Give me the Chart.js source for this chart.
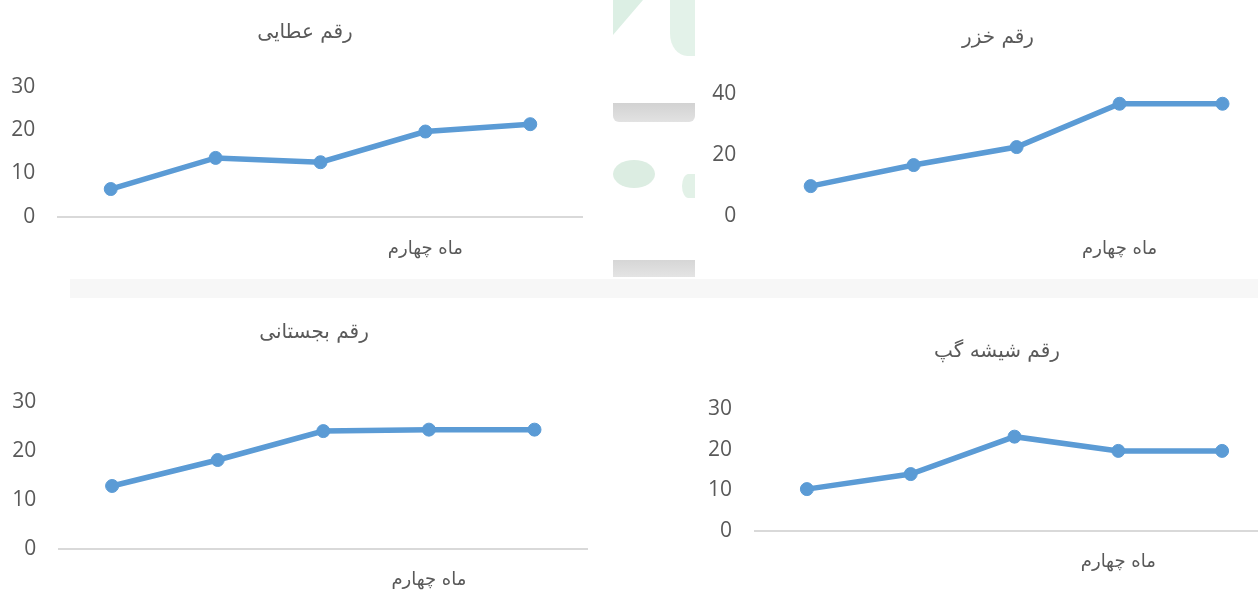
<!DOCTYPE html>
<html lang="fa">
<head>
<meta charset="utf-8">
<script src="https://cdn.jsdelivr.net/npm/chart.js@4.4.1/dist/chart.umd.min.js"></script>
<style>
  html, body { margin: 0; padding: 0; background: #fff; }
  body { width: 1258px; height: 590px; overflow: hidden; position: relative; }
  canvas { position: absolute; }
  .wm { position: absolute; }
</style>
</head>
<body>
<!-- faint watermark left over from the scanned page -->
<div class="wm" style="left:70px;top:279px;width:1188px;height:19px;background:#f7f7f7;"></div>
<div class="wm" style="left:613px;top:0;width:30px;height:35px;background:#dcefe4;clip-path:polygon(0 0,100% 0,0 100%);"></div>
<div class="wm" style="left:670px;top:0;width:25px;height:56px;background:#e3f2e9;border-radius:0 0 0 70% / 0 0 0 40%;"></div>
<div class="wm" style="left:613px;top:103px;width:82px;height:19px;background:linear-gradient(#d2d2d2,#e2e2e2);border-radius:0 0 6px 6px;"></div>
<div class="wm" style="left:613px;top:160px;width:42px;height:28px;background:#dcede2;border-radius:50%;"></div>
<div class="wm" style="left:682px;top:174px;width:13px;height:24px;background:#e2f1e7;border-radius:50% 0 0 50%;"></div>
<div class="wm" style="left:613px;top:260px;width:82px;height:17px;background:linear-gradient(#d6d6d6,#e4e4e4);"></div>

<canvas id="chartA"></canvas>
<canvas id="chartB"></canvas>
<canvas id="chartC"></canvas>
<canvas id="chartD"></canvas>

<script>
// category labels (only the fourth month is labelled on the axis)
const categories = ['', '', '', 'ماه چهارم', ''];

// series values
const attaeiValues = [6.4, 13.6, 12.6, 19.7, 21.4];
const khazarValues = [9.8, 16.7, 22.6, 36.8, 36.8];
const bajestaniValues = [12.8, 18.1, 24.0, 24.3, 24.3];
const shishehGapValues = [10.3, 14.0, 23.2, 19.7, 19.7];

// chart titles
const titles = ['رقم عطایی', 'رقم خزر', 'رقم بجستانی', 'رقم شیشه گپ'];

// y axis ranges and tick steps
const yMaxes = [30, 40, 30, 30];
const ySteps = [10, 20, 10, 10];

const lineColor = '#5b9bd5';
const textColor = '#595959';
const titleFont = { family: "'DejaVu Sans', sans-serif", size: 20, weight: 'normal' };
const labelFont = { family: "'DejaVu Sans', sans-serif", size: 18 };
const tickFont = { family: "'Open Sans', sans-serif", size: 21 };

// box = canvas placement, area = plot area in page pixels
function drawPanel(id, box, area, titleText, titlePos, values, yMax, yStep, showBase, labelGap) {
  const canvas = document.getElementById(id);
  canvas.width = box.w;
  canvas.height = box.h;
  canvas.style.left = box.x + 'px';
  canvas.style.top = box.y + 'px';

  const aL = area.l - box.x, aT = area.t - box.y, aB = area.b - box.y;
  // the full-width title is centred between the canvas left and 'outerRight'
  const outerRight = 2 * titlePos.x - box.x;
  const spacer = outerRight - area.r;
  const padRight = box.x + box.w - outerRight;
  const lineH = titleFont.size * 1.2;
  const tTop = titlePos.y - box.y - lineH / 2;
  const tBottom = aT - tTop - lineH;

  return new Chart(canvas, {
    type: 'line',
    data: {
      labels: categories,
      datasets: [{
        data: values,
        borderColor: lineColor,
        backgroundColor: lineColor,
        borderWidth: 5.5,
        pointRadius: 6.5,
        pointBorderWidth: 1,
        pointHoverRadius: 6.5,
        tension: 0,
        fill: false
      }]
    },
    options: {
      responsive: false,
      animation: false,
      devicePixelRatio: 1,
      layout: { padding: { left: 0, right: padRight, top: 0, bottom: 0 } },
      plugins: {
        legend: { display: false },
        tooltip: { enabled: false },
        title: {
          display: true,
          text: titleText,
          color: textColor,
          font: titleFont,
          padding: { top: tTop, bottom: tBottom }
        }
      },
      scales: {
        x: {
          offset: true,
          grid: { display: false },
          border: { display: showBase, color: '#d9d9d9', width: 2 },
          ticks: { autoSkip: false, maxRotation: 0, padding: labelGap, color: textColor, font: labelFont },
          afterFit: s => { s.height = box.h - aB; }
        },
        y: {
          min: 0,
          max: yMax,
          grid: { display: false },
          border: { display: false },
          ticks: { stepSize: yStep, padding: 15, color: textColor, font: tickFont },
          afterFit: s => { s.width = aL; }
        },
        // empty right-hand axis, only used as a spacer
        spacer: {
          type: 'linear',
          position: 'right',
          display: true,
          grid: { display: false },
          border: { display: false },
          ticks: { display: false },
          afterFit: s => { s.width = spacer; }
        }
      }
    }
  });
}

drawPanel('chartA', { x: 0, y: 0, w: 620, h: 290 }, { l: 58.3, r: 582.7, t: 87, b: 216.7 },
  titles[0], { x: 305, y: 33 }, attaeiValues, yMaxes[0], ySteps[0], true, 14);
drawPanel('chartB', { x: 690, y: 0, w: 640, h: 290 }, { l: 759.2, r: 1274, t: 94, b: 216 },
  titles[1], { x: 998, y: 38 }, khazarValues, yMaxes[1], ySteps[1], false, 15);
drawPanel('chartC', { x: 0, y: 300, w: 640, h: 290 }, { l: 59.3, r: 587.3, t: 401.7, b: 548.7 },
  titles[2], { x: 314, y: 333 }, bajestaniValues, yMaxes[2], ySteps[2], true, 12.5);
drawPanel('chartD', { x: 690, y: 300, w: 640, h: 290 }, { l: 755, r: 1274, t: 409, b: 531 },
  titles[3], { x: 997, y: 352 }, shishehGapValues, yMaxes[3], ySteps[3], true, 12.5);
</script>
</body>
</html>
